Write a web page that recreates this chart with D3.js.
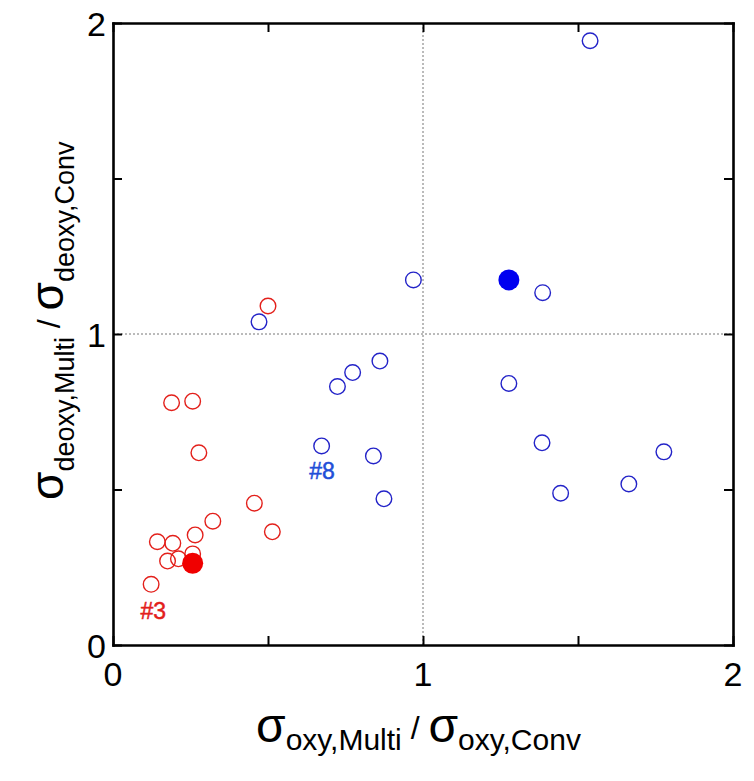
<!DOCTYPE html>
<html><head><meta charset="utf-8">
<script src="https://cdn.jsdelivr.net/npm/d3@7"></script>
<style>body{margin:0;background:#fff}svg{display:block}</style>
</head><body>
<script>
const redOpenX = [0.123,0.143,0.193,0.176,0.211,0.257,0.265,0.322,0.456,0.514,0.189,0.257,0.277,0.500];
const redOpenY = [0.195,0.332,0.327,0.270,0.277,0.293,0.354,0.398,0.456,0.364,0.779,0.784,0.618,1.090];
const redFilled = [[0.257,0.263]];
const blueOpenX = [0.969,0.861,0.773,0.724,0.673,0.840,0.874,1.386,1.277,1.384,1.444,1.664,1.777,1.539,0.471];
const blueOpenY = [1.174,0.913,0.876,0.831,0.640,0.608,0.470,1.133,0.841,0.650,0.488,0.518,0.621,1.943,1.039];
const blueFilled = [[1.277,1.174]];
const labels = [{t:"#3",x:0.13,y:0.11,c:"#e3201b"},{t:"#8",x:0.674,y:0.56,c:"#1f4fd8"}];
const majorTicks = [0,1,2];
const allTicks = [0,0.5,1,1.5,2];
const xTitle = [{t:"σ",k:"s"},{t:"oxy,Multi",k:"b"},{t:" / ",k:"sl"},{t:"σ",k:"s"},{t:"oxy,Conv",k:"b"}];
const yTitle = [{t:"σ",k:"s"},{t:"deoxy,Multi",k:"b"},{t:" / ",k:"sl"},{t:"σ",k:"s"},{t:"deoxy,Conv",k:"b"}];

const W=754,H=781;
const svg=d3.select("body").append("svg").attr("width",W).attr("height",H);
const L=113,R=733,T=23,B=645;
const x=d3.scaleLinear().domain([0,2]).range([L,R]);
const y=d3.scaleLinear().domain([0,2]).range([B,T]);
const font="Liberation Sans, Arial, sans-serif";

// dotted grid at 1
svg.append("line").attr("x1",x(1)).attr("x2",x(1)).attr("y1",T).attr("y2",B)
  .attr("stroke","#777").attr("stroke-width",1).attr("stroke-dasharray","2,2");
svg.append("line").attr("x1",L).attr("x2",R).attr("y1",y(1)).attr("y2",y(1))
  .attr("stroke","#777").attr("stroke-width",1).attr("stroke-dasharray","2,2");

// axes (ticks inward)
const tk=9;
const axB=d3.axisBottom(x).tickValues(allTicks).tickSizeInner(-tk).tickSizeOuter(0).tickFormat("");
const axT=d3.axisTop(x).tickValues(allTicks).tickSizeInner(-tk).tickSizeOuter(0).tickFormat("");
const axL=d3.axisLeft(y).tickValues(allTicks).tickSizeInner(-tk).tickSizeOuter(0).tickFormat("");
const axR=d3.axisRight(y).tickValues(allTicks).tickSizeInner(-tk).tickSizeOuter(0).tickFormat("");
[[axB,`translate(0,${B})`],[axT,`translate(0,${T})`],[axL,`translate(${L},0)`],[axR,`translate(${R},0)`]].forEach(([a,tr])=>{
  const g=svg.append("g").attr("transform",tr).call(a);
  g.selectAll("path").attr("stroke","#000").attr("stroke-width",2.6).attr("stroke-linecap","square");
  g.selectAll("line").attr("stroke","#000").attr("stroke-width",2);
});

// tick labels
svg.append("g").selectAll("text").data(majorTicks).join("text")
  .attr("x",d=>x(d)).attr("y",B+41).attr("text-anchor","middle")
  .attr("font-family",font).attr("font-size",34).text(d=>d);
svg.append("g").selectAll("text").data(majorTicks).join("text")
  .attr("x",L-7).attr("y",d=>y(d)+12.5).attr("text-anchor","end")
  .attr("font-family",font).attr("font-size",34).text(d=>d);

// points
const r=7.8;
svg.append("g").selectAll("circle").data(d3.zip(redOpenX,redOpenY)).join("circle")
  .attr("cx",d=>x(d[0])).attr("cy",d=>y(d[1])).attr("r",r)
  .attr("fill","none").attr("stroke","#e3201b").attr("stroke-width",1.4);
svg.append("g").selectAll("circle").data(d3.zip(blueOpenX,blueOpenY)).join("circle")
  .attr("cx",d=>x(d[0])).attr("cy",d=>y(d[1])).attr("r",r)
  .attr("fill","none").attr("stroke","#2323c8").attr("stroke-width",1.4);
svg.append("g").selectAll("circle").data(redFilled).join("circle")
  .attr("cx",d=>x(d[0])).attr("cy",d=>y(d[1])).attr("r",10.5).attr("fill","#f00000");
svg.append("g").selectAll("circle").data(blueFilled).join("circle")
  .attr("cx",d=>x(d[0])).attr("cy",d=>y(d[1])).attr("r",10.5).attr("fill","#0000f0");

svg.append("g").selectAll("text").data(labels).join("text")
  .attr("x",d=>x(d.x)).attr("y",d=>y(d.y)).attr("text-anchor","middle").attr("dominant-baseline","central")
  .attr("font-family",font).attr("font-size",23).attr("fill",d=>d.c)
  .attr("stroke",d=>d.c).attr("stroke-width",0.5).text(d=>d.t);

// axis titles
function title(g,parts,size,subShift){
  const t=g.append("text").attr("font-family",font).attr("text-anchor","start");
  let prev=0;
  parts.forEach(p=>{
    const off = p.k==="b"?subShift:(p.k==="sl"?-3:0);
    t.append("tspan").attr("font-size",size[p.k]).attr("dy",off-prev).text(p.t);
    prev=off;
  });
  return t;
}
title(svg.append("g").attr("transform",`translate(256,742)`), xTitle, {s:48,b:30,sl:32}, 8);
title(svg.append("g").attr("transform",`translate(63,500) rotate(-90)`), yTitle, {s:46,b:27,sl:32}, 11);
</script>
</body></html>
